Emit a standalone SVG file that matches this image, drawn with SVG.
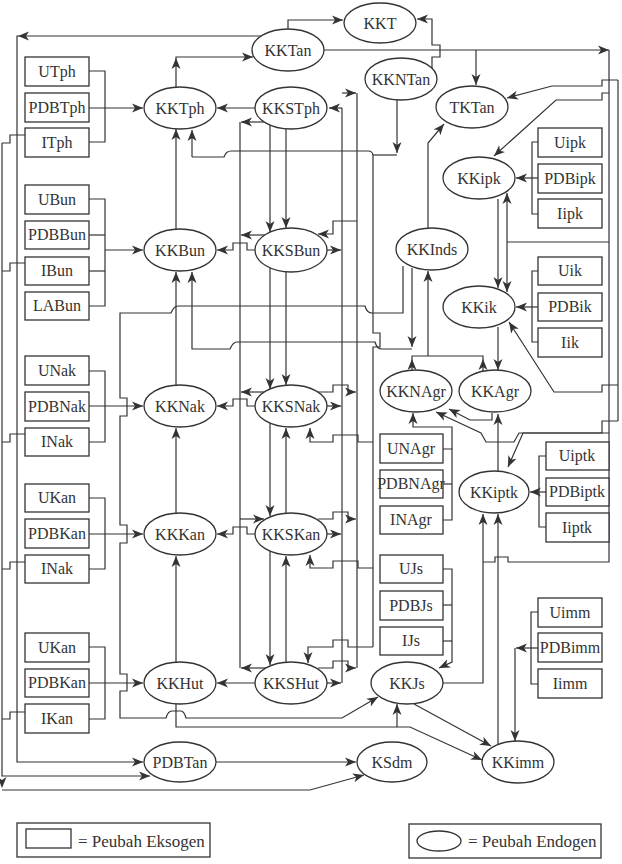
<svg xmlns="http://www.w3.org/2000/svg" xmlns:xlink="http://www.w3.org/1999/xlink" width="622" height="864" viewBox="0 0 622 864" font-family="Liberation Serif, Times New Roman, DejaVu Serif, serif">
<style>
.b rect{fill:#fff;stroke:#333;stroke-width:1.3}
.e ellipse{fill:#fff;stroke:#333;stroke-width:1.3}
text{font-family:'Liberation Serif','Times New Roman','DejaVu Serif',serif;font-size:16px;fill:#333;text-anchor:middle}
#conn path{fill:none;stroke:#333;stroke-width:1.2}
</style>
<defs>
<marker id="a" markerWidth="12" markerHeight="10" refX="11" refY="5" orient="auto" markerUnits="userSpaceOnUse"><path d="M0,0.5 L11,5 L0,9.5 L3,5 Z" fill="#333"/></marker>
<path id="ah" d="M0,0 L-11,-4.5 L-8,0 L-11,4.5 Z" fill="#333"/>
</defs>
<rect width="622" height="864" fill="#fff"/>
<g id="conn">
<path d="M261,36 H17 V762 H143" marker-end="url(#a)"/>
<path d="M176,87 V57 H253" marker-end="url(#a)"/>
<path d="M288,29 V20 H343" marker-end="url(#a)"/>
<path d="M432,68 V57 H440 V45 H432 V19 H417" marker-end="url(#a)"/>
<path d="M324,50 H609" marker-end="url(#a)"/>
<path d="M476,50 V85" marker-end="url(#a)"/>
<path d="M609,50 V562 H508 V557 H495 V562 H483"/>
<path d="M618,80 H602 V86 H552 L507,98" marker-end="url(#a)"/>
<path d="M609,93 H602 V100 H556 L494,156" marker-end="url(#a)"/>
<path d="M618,80 V421"/>
<path d="M618,385 H602 V392 H554 L509,322" marker-end="url(#a)"/>
<path d="M618,421 H602 V433 H523 L508,467" marker-end="url(#a)"/>
<path d="M609,433 H519 L514,442 H486 L481,433 L436,412" marker-end="url(#a)"/>
<path d="M492,413 V420 H470 L449,409" marker-end="url(#a)"/>
<path d="M498,199 V288" marker-end="url(#a)"/>
<path d="M507,242 V193" marker-end="url(#a)"/>
<path d="M507,242 V292" marker-end="url(#a)"/>
<path d="M507,242 H609"/>
<path d="M498,327 V370" marker-end="url(#a)"/>
<path d="M498,471 V414" marker-end="url(#a)"/>
<path d="M498,744 V514" marker-end="url(#a)"/>
<path d="M443,683 H483 V514" marker-end="url(#a)"/>
<path d="M538,142 H532 V214 H538"/>
<path d="M538,178 H516" marker-end="url(#a)"/>
<path d="M538,271 H532 V342 H538"/>
<path d="M538,307 H516" marker-end="url(#a)"/>
<path d="M546,456 H539 V527 H546"/>
<path d="M546,492 H530" marker-end="url(#a)"/>
<path d="M538,612 H531 V684 H538"/>
<path d="M538,648 H516" marker-end="url(#a)"/>
<path d="M515,648 V741" marker-end="url(#a)"/>
<path d="M443,449 H452 V520 H443"/>
<path d="M443,484 H452"/>
<path d="M452,449 V427 H413 V413" marker-end="url(#a)"/>
<path d="M443,569 H452 V662 L439,668" marker-end="url(#a)"/>
<path d="M443,605 H452"/>
<path d="M443,641 H452"/>
<path d="M428,228 V143 L444,124" marker-end="url(#a)"/>
<path d="M428,356 V271" marker-end="url(#a)"/>
<path d="M412,371 V356 H483 V371"/>
<path d="M412,268 V347" marker-end="url(#a)"/>
<path d="M403,266 V313 H372 Q367,313 365,306 H178 Q174,306 171,313 H120 V398 H127 V416 H120 V525 H127 V543 H120 V674 H127 V691 H120 V718 H166 Q168,711 172,711 H181 Q184,711 186,718 H342 L378,697" marker-end="url(#a)"/>
<path d="M412,349 H382 Q377,349 375,342 H237 Q233,342 230,349 H192 V272" marker-end="url(#a)"/>
<path d="M397,100 V153" marker-end="url(#a)"/>
<path d="M373,155 H397"/>
<path d="M192,157 H224 Q226,151 231,151 H368 Q373,151 373,156 V333 H380 V347 H373 V647"/>
<path d="M192,157 V130" marker-end="url(#a)"/>
<path d="M373,647 H348 V640 H333 V647 H308 V663" marker-end="url(#a)"/>
<path d="M373,442 H358 V435 H333 V442 H310 V428" marker-end="url(#a)"/>
<path d="M373,568 H358 V561 H333 V568 H310 V555" marker-end="url(#a)"/>
<path d="M255,108 H217" marker-end="url(#a)"/>
<path d="M255,250 H247 V243 H233 V250 H217" marker-end="url(#a)"/>
<path d="M255,406 H247 V399 H233 V406 H217" marker-end="url(#a)"/>
<path d="M255,534 H247 V527 H233 V534 H217" marker-end="url(#a)"/>
<path d="M255,683 H217" marker-end="url(#a)"/>
<path d="M176,229 V129" marker-end="url(#a)"/>
<path d="M176,385 V272" marker-end="url(#a)"/>
<path d="M176,513 V428" marker-end="url(#a)"/>
<path d="M176,662 V556" marker-end="url(#a)"/>
<path d="M270,125 V232" marker-end="url(#a)"/>
<path d="M270,267 V389" marker-end="url(#a)"/>
<path d="M270,423 V516" marker-end="url(#a)"/>
<path d="M270,551 V665" marker-end="url(#a)"/>
<path d="M286,129 V228" marker-end="url(#a)"/>
<path d="M286,271 V385" marker-end="url(#a)"/>
<path d="M286,513 V428" marker-end="url(#a)"/>
<path d="M286,662 V556" marker-end="url(#a)"/>
<path d="M240,122 V668"/>
<path d="M264,122 H241" marker-end="url(#a)"/>
<path d="M266,235 H241" marker-end="url(#a)"/>
<path d="M266,392 H241" marker-end="url(#a)"/>
<path d="M240,519 H264" marker-end="url(#a)"/>
<path d="M266,668 H241" marker-end="url(#a)"/>
<path d="M342,108 V683"/>
<path d="M342,108 H329" marker-end="url(#a)"/>
<path d="M327,250 H341" marker-end="url(#a)"/>
<path d="M327,406 H341" marker-end="url(#a)"/>
<path d="M327,534 H341" marker-end="url(#a)"/>
<path d="M327,683 H341" marker-end="url(#a)"/>
<path d="M342,93 H356" marker-end="url(#a)"/>
<path d="M357,93 V668"/>
<path d="M357,221 H333 V234 H318" marker-end="url(#a)"/>
<path d="M318,392 H333 V385 H348 V392 H356" marker-end="url(#a)"/>
<path d="M318,519 H333 V512 H348 V519 H356" marker-end="url(#a)"/>
<path d="M318,668 H333 V661 H348 V668 H356" marker-end="url(#a)"/>
<path d="M89,71 H105 V142 H89"/>
<path d="M89,108 H143" marker-end="url(#a)"/>
<path d="M89,199 H105 V306 H89"/>
<path d="M89,235 H105"/>
<path d="M89,271 H105"/>
<path d="M105,250 H143" marker-end="url(#a)"/>
<path d="M89,371 H105 V442 H89"/>
<path d="M89,406 H143" marker-end="url(#a)"/>
<path d="M89,498 H105 V569 H89"/>
<path d="M89,534 H143" marker-end="url(#a)"/>
<path d="M89,647 H105 V719 H89"/>
<path d="M89,683 H143" marker-end="url(#a)"/>
<path d="M25,135 H10 V143 H2"/>
<path d="M25,263 H10 V271 H2"/>
<path d="M25,434 H10 V442 H2"/>
<path d="M25,562 H10 V569 H2"/>
<path d="M25,712 H10 V719 H2"/>
<path d="M2,143 V776 H150" marker-end="url(#a)"/>
<path d="M2,790 H310 L364,775" marker-end="url(#a)"/>
<path d="M216,762 H356" marker-end="url(#a)"/>
<path d="M176,704 V727 H410 L482,760" marker-end="url(#a)"/>
<path d="M397,727 V704" marker-end="url(#a)"/>
<path d="M414,704 L491,746" marker-end="url(#a)"/>
<use xlink:href="#ah" transform="translate(18,36) rotate(180)"/>
<use xlink:href="#ah" transform="translate(176,58) rotate(-90)"/>
<use xlink:href="#ah" transform="translate(412,359) rotate(-90)"/>
<use xlink:href="#ah" transform="translate(483,359) rotate(-90)"/>
<use xlink:href="#ah" transform="translate(2,788) rotate(90)"/>
</g>
<g class="b">
<g id="UTph"><rect x="25" y="57" width="64" height="29"/><text x="57" y="77">UTph</text></g>
<g id="PDBTph"><rect x="25" y="93" width="64" height="29"/><text x="57" y="113">PDBTph</text></g>
<g id="ITph"><rect x="25" y="128" width="64" height="29"/><text x="57" y="148">ITph</text></g>
<g id="UBun"><rect x="25" y="185" width="64" height="29"/><text x="57" y="205">UBun</text></g>
<g id="PDBBun"><rect x="25" y="221" width="64" height="28"/><text x="57" y="240">PDBBun</text></g>
<g id="IBun"><rect x="25" y="257" width="64" height="28"/><text x="57" y="276">IBun</text></g>
<g id="LABun"><rect x="25" y="292" width="64" height="28"/><text x="57" y="311">LABun</text></g>
<g id="UNak"><rect x="25" y="356" width="64" height="29"/><text x="57" y="376">UNak</text></g>
<g id="PDBNak"><rect x="25" y="392" width="64" height="29"/><text x="57" y="412">PDBNak</text></g>
<g id="INak1"><rect x="25" y="428" width="64" height="28"/><text x="57" y="447">INak</text></g>
<g id="UKan1"><rect x="25" y="484" width="64" height="28"/><text x="57" y="503">UKan</text></g>
<g id="PDBKan1"><rect x="25" y="519" width="64" height="29"/><text x="57" y="539">PDBKan</text></g>
<g id="INak2"><rect x="25" y="555" width="64" height="28"/><text x="57" y="574">INak</text></g>
<g id="UKan2"><rect x="25" y="633" width="64" height="29"/><text x="57" y="653">UKan</text></g>
<g id="PDBKan2"><rect x="25" y="669" width="64" height="28"/><text x="57" y="688">PDBKan</text></g>
<g id="IKan"><rect x="25" y="704" width="64" height="29"/><text x="57" y="724">IKan</text></g>
<g id="UNAgr"><rect x="380" y="434" width="63" height="29"/><text x="411" y="454">UNAgr</text></g>
<g id="PDBNAgr"><rect x="380" y="470" width="63" height="28"/><text x="411" y="489">PDBNAgr</text></g>
<g id="INAgr"><rect x="380" y="506" width="63" height="28"/><text x="411" y="525">INAgr</text></g>
<g id="UJs"><rect x="380" y="555" width="63" height="28"/><text x="411" y="574">UJs</text></g>
<g id="PDBJs"><rect x="380" y="591" width="63" height="29"/><text x="411" y="611">PDBJs</text></g>
<g id="IJs"><rect x="380" y="627" width="63" height="28"/><text x="411" y="646">IJs</text></g>
<g id="Uipk"><rect x="538" y="128" width="64" height="29"/><text x="570" y="148">Uipk</text></g>
<g id="PDBipk"><rect x="538" y="164" width="64" height="29"/><text x="570" y="184">PDBipk</text></g>
<g id="Iipk"><rect x="538" y="199" width="64" height="29"/><text x="570" y="219">Iipk</text></g>
<g id="Uik"><rect x="538" y="257" width="64" height="28"/><text x="570" y="276">Uik</text></g>
<g id="PDBik"><rect x="538" y="293" width="64" height="28"/><text x="570" y="312">PDBik</text></g>
<g id="Iik"><rect x="538" y="328" width="64" height="29"/><text x="570" y="348">Iik</text></g>
<g id="Uiptk"><rect x="546" y="442" width="63" height="28"/><text x="577" y="461">Uiptk</text></g>
<g id="PDBiptk"><rect x="546" y="478" width="63" height="28"/><text x="577" y="497">PDBiptk</text></g>
<g id="Iiptk"><rect x="546" y="513" width="63" height="29"/><text x="577" y="533">Iiptk</text></g>
<g id="Uimm"><rect x="538" y="598" width="64" height="29"/><text x="570" y="618">Uimm</text></g>
<g id="PDBimm"><rect x="538" y="633" width="64" height="29"/><text x="570" y="653">PDBimm</text></g>
<g id="Iimm"><rect x="538" y="669" width="64" height="29"/><text x="570" y="689">Iimm</text></g>
</g>
<g class="e">
<g id="KKT"><ellipse cx="380" cy="23" rx="36" ry="20"/><text x="380" y="29">KKT</text></g>
<g id="KKTan"><ellipse cx="288" cy="50" rx="36" ry="21"/><text x="288" y="56">KKTan</text></g>
<g id="KKNTan"><ellipse cx="401" cy="79" rx="36" ry="21"/><text x="401" y="85">KKNTan</text></g>
<g id="TKTan"><ellipse cx="472" cy="107" rx="36" ry="21"/><text x="472" y="113">TKTan</text></g>
<g id="KKTph"><ellipse cx="180" cy="108" rx="36" ry="21"/><text x="180" y="114">KKTph</text></g>
<g id="KKSTph"><ellipse cx="291" cy="108" rx="36" ry="21"/><text x="291" y="114">KKSTph</text></g>
<g id="KKipk"><ellipse cx="479" cy="178" rx="36" ry="21"/><text x="479" y="184">KKipk</text></g>
<g id="KKBun"><ellipse cx="180" cy="250" rx="36" ry="21"/><text x="180" y="256">KKBun</text></g>
<g id="KKSBun"><ellipse cx="291" cy="250" rx="36" ry="22"/><text x="291" y="256">KKSBun</text></g>
<g id="KKInds"><ellipse cx="432" cy="249" rx="36" ry="21"/><text x="432" y="255">KKInds</text></g>
<g id="KKik"><ellipse cx="479" cy="307" rx="36" ry="21"/><text x="479" y="313">KKik</text></g>
<g id="KKNAgr"><ellipse cx="416" cy="391" rx="36" ry="21"/><text x="416" y="397">KKNAgr</text></g>
<g id="KKAgr"><ellipse cx="495" cy="391" rx="36" ry="21"/><text x="495" y="397">KKAgr</text></g>
<g id="KKNak"><ellipse cx="180" cy="406" rx="36" ry="21"/><text x="180" y="412">KKNak</text></g>
<g id="KKSNak"><ellipse cx="291" cy="406" rx="36" ry="21"/><text x="291" y="412">KKSNak</text></g>
<g id="KKiptk"><ellipse cx="494" cy="492" rx="35" ry="21"/><text x="494" y="498">KKiptk</text></g>
<g id="KKKan"><ellipse cx="180" cy="534" rx="36" ry="21"/><text x="180" y="540">KKKan</text></g>
<g id="KKSKan"><ellipse cx="291" cy="534" rx="36" ry="21"/><text x="291" y="540">KKSKan</text></g>
<g id="KKHut"><ellipse cx="180" cy="683" rx="36" ry="21"/><text x="180" y="689">KKHut</text></g>
<g id="KKSHut"><ellipse cx="291" cy="683" rx="36" ry="21"/><text x="291" y="689">KKSHut</text></g>
<g id="KKJs"><ellipse cx="407" cy="683" rx="36" ry="21"/><text x="407" y="689">KKJs</text></g>
<g id="PDBTan"><ellipse cx="180" cy="762" rx="36" ry="20"/><text x="180" y="768">PDBTan</text></g>
<g id="KSdm"><ellipse cx="392" cy="762" rx="35" ry="20"/><text x="392" y="768">KSdm</text></g>
<g id="KKimm"><ellipse cx="518" cy="762" rx="36" ry="21"/><text x="518" y="768">KKimm</text></g>
</g>
<g id="legend-exo"><rect x="17" y="823" width="193" height="34" fill="none" stroke="#333" stroke-width="1.3"/><rect x="26" y="829" width="45" height="19" fill="none" stroke="#333" stroke-width="1.3"/><text x="78" y="847" style="text-anchor:start;font-size:17px">= Peubah Eksogen</text></g>
<g id="legend-endo"><rect x="409" y="824" width="192" height="34" fill="none" stroke="#333" stroke-width="1.3"/><ellipse cx="439" cy="841" rx="22" ry="10" fill="none" stroke="#333" stroke-width="1.3"/><text x="468" y="847" style="text-anchor:start;font-size:17px">= Peubah Endogen</text></g>
</svg>
